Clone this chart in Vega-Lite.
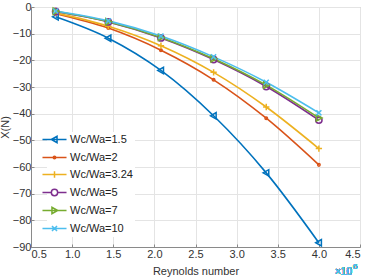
{
  "$schema": "https://vega.github.io/schema/vega-lite/v6.json",
  "width": 329,
  "height": 240,
  "autosize": {"type": "none"},
  "padding": {"left": 31, "top": 7, "right": 5, "bottom": 30},
  "background": "white",
  "config": {
    "font": "Liberation Sans",
    "view": {"stroke": "#b5b5b5", "strokeWidth": 1},
    "axis": {
      "labelFont": "Liberation Sans",
      "titleFont": "Liberation Sans",
      "labelFontSize": 11,
      "titleFontSize": 11,
      "titleFontWeight": "normal",
      "labelColor": "#333333",
      "titleColor": "#333333",
      "gridColor": "#e4e4e4",
      "domainColor": "#8a8a8a",
      "tickColor": "#8a8a8a",
      "tickSize": -3
    },
    "legend": {
      "labelFont": "Liberation Sans",
      "orient": "none",
      "legendX": 16,
      "legendY": 125,
      "fillColor": "white",
      "padding": 2,
      "rowPadding": 5,
      "labelFontSize": 11,
      "labelColor": "#222222",
      "labelOffset": 10,
      "symbolSize": 40,
      "symbolStrokeWidth": 1.5,
      "symbolOpacity": 1,
      "symbolFillColor": "transparent"
    }
  },
  "data": {
    "values": [
      {"re": 0.8, "x": -3.7, "s": "Wc/Wa=1.5"},
      {"re": 1.44, "x": -11.7, "s": "Wc/Wa=1.5"},
      {"re": 2.08, "x": -23.8, "s": "Wc/Wa=1.5"},
      {"re": 2.72, "x": -40.8, "s": "Wc/Wa=1.5"},
      {"re": 3.36, "x": -62.2, "s": "Wc/Wa=1.5"},
      {"re": 4.0, "x": -88.4, "s": "Wc/Wa=1.5"},
      {"re": 0.8, "x": -2.5, "s": "Wc/Wa=2"},
      {"re": 1.44, "x": -7.9, "s": "Wc/Wa=2"},
      {"re": 2.08, "x": -16.2, "s": "Wc/Wa=2"},
      {"re": 2.72, "x": -27.3, "s": "Wc/Wa=2"},
      {"re": 3.36, "x": -41.7, "s": "Wc/Wa=2"},
      {"re": 4.0, "x": -59.2, "s": "Wc/Wa=2"},
      {"re": 0.8, "x": -2.2, "s": "Wc/Wa=3.24"},
      {"re": 1.44, "x": -7.2, "s": "Wc/Wa=3.24"},
      {"re": 2.08, "x": -14.5, "s": "Wc/Wa=3.24"},
      {"re": 2.72, "x": -24.5, "s": "Wc/Wa=3.24"},
      {"re": 3.36, "x": -37.5, "s": "Wc/Wa=3.24"},
      {"re": 4.0, "x": -53.1, "s": "Wc/Wa=3.24"},
      {"re": 0.8, "x": -1.7, "s": "Wc/Wa=5"},
      {"re": 1.44, "x": -5.6, "s": "Wc/Wa=5"},
      {"re": 2.08, "x": -11.6, "s": "Wc/Wa=5"},
      {"re": 2.72, "x": -19.7, "s": "Wc/Wa=5"},
      {"re": 3.36, "x": -29.8, "s": "Wc/Wa=5"},
      {"re": 4.0, "x": -42.4, "s": "Wc/Wa=5"},
      {"re": 0.8, "x": -1.6, "s": "Wc/Wa=7"},
      {"re": 1.44, "x": -5.5, "s": "Wc/Wa=7"},
      {"re": 2.08, "x": -11.4, "s": "Wc/Wa=7"},
      {"re": 2.72, "x": -19.4, "s": "Wc/Wa=7"},
      {"re": 3.36, "x": -29.3, "s": "Wc/Wa=7"},
      {"re": 4.0, "x": -41.6, "s": "Wc/Wa=7"},
      {"re": 0.8, "x": -1.5, "s": "Wc/Wa=10"},
      {"re": 1.44, "x": -5.2, "s": "Wc/Wa=10"},
      {"re": 2.08, "x": -10.9, "s": "Wc/Wa=10"},
      {"re": 2.72, "x": -18.7, "s": "Wc/Wa=10"},
      {"re": 3.36, "x": -28.2, "s": "Wc/Wa=10"},
      {"re": 4.0, "x": -39.7, "s": "Wc/Wa=10"}
    ]
  },
  "encoding": {
    "x": {
      "field": "re",
      "type": "quantitative",
      "scale": {"domain": [0.5, 4.5], "nice": false},
      "axis": {"values": [0.5, 1, 1.5, 2, 2.5, 3, 3.5, 4, 4.5], "title": "Reynolds number", "titlePadding": 6, "labelPadding": 4}
    },
    "y": {
      "field": "x",
      "type": "quantitative",
      "scale": {"domain": [-90, 0], "nice": false},
      "axis": {"values": [-90, -80, -70, -60, -50, -40, -30, -20, -10, 0], "title": "X(N)", "titlePadding": 2, "labelPadding": 3}
    },
    "color": {
      "field": "s",
      "type": "nominal",
      "title": null,
      "scale": {
        "domain": ["Wc/Wa=1.5", "Wc/Wa=2", "Wc/Wa=3.24", "Wc/Wa=5", "Wc/Wa=7", "Wc/Wa=10"],
        "range": ["#0072BD", "#D95319", "#EDB120", "#7E2F8E", "#77AC30", "#4DBEEE"]
      },
      "legend": null
    }
  },
  "layer": [
    {
      "mark": {"type": "line", "interpolate": "monotone", "strokeWidth": 1.6}
    },
    {
      "mark": {"type": "point", "filled": false, "size": 40, "strokeWidth": 1.5, "opacity": 1},
      "encoding": {
        "shape": {
          "field": "s",
          "type": "nominal",
          "title": null,
          "scale": {
            "domain": ["Wc/Wa=1.5", "Wc/Wa=2", "Wc/Wa=3.24", "Wc/Wa=5", "Wc/Wa=7", "Wc/Wa=10"],
            "range": [
              "M-1,0L0.8,-1L0.8,1Z",
              "M-0.4,0a0.4,0.4 0 1,0 0.8,0a0.4,0.4 0 1,0 -0.8,0",
              "M-1,0H1M0,-1V1",
              "M-1,0a1,1 0 1,0 2,0a1,1 0 1,0 -2,0",
              "M1,0L-0.8,-1L-0.8,1Z",
              "M-0.8,-0.8L0.8,0.8M-0.8,0.8L0.8,-0.8"
            ]
          },
          "legend": null
        }
      }
    },
    {
      "mark": {"type": "point", "filled": false, "size": 40, "strokeWidth": 1.5, "opacity": 0},
      "encoding": {
        "color": {
          "field": "s",
          "type": "nominal",
          "title": null,
          "scale": {
            "domain": ["Wc/Wa=1.5", "Wc/Wa=2", "Wc/Wa=3.24", "Wc/Wa=5", "Wc/Wa=7", "Wc/Wa=10"],
            "range": ["#0072BD", "#D95319", "#EDB120", "#7E2F8E", "#77AC30", "#4DBEEE"]
          },
          "legend": {}
        },
        "shape": {
          "field": "s",
          "type": "nominal",
          "title": null,
          "scale": {
            "domain": ["Wc/Wa=1.5", "Wc/Wa=2", "Wc/Wa=3.24", "Wc/Wa=5", "Wc/Wa=7", "Wc/Wa=10"],
            "range": [
              "M-3.8,0H3.8M-1,0L0.8,-1L0.8,1Z",
              "M-3.8,0H3.8M-0.4,0a0.4,0.4 0 1,0 0.8,0a0.4,0.4 0 1,0 -0.8,0",
              "M-3.8,0H3.8M0,-1V1",
              "M-3.8,0H-1M1,0H3.8M-1,0a1,1 0 1,0 2,0a1,1 0 1,0 -2,0",
              "M-3.8,0H3.8M1,0L-0.8,-1L-0.8,1Z",
              "M-3.8,0H3.8M-0.8,-0.8L0.8,0.8M-0.8,0.8L0.8,-0.8"
            ]
          },
          "legend": {}
        }
      }
    },
    {
      "mark": {"type": "text", "align": "right", "baseline": "top", "dy": 20, "dx": -8, "fontSize": 10, "color": "#333333"},
      "encoding": {
        "x": {"datum": 4.5},
        "y": {"datum": -90},
        "text": {"value": "×10"}
      }
    },
    {
      "mark": {"type": "text", "align": "left", "baseline": "top", "dy": 16, "dx": -7, "fontSize": 8, "color": "#333333"},
      "encoding": {
        "x": {"datum": 4.5},
        "y": {"datum": -90},
        "text": {"value": "6"}
      }
    }
  ],
  "resolve": {"scale": {"shape": "independent", "color": "independent"}}
}
